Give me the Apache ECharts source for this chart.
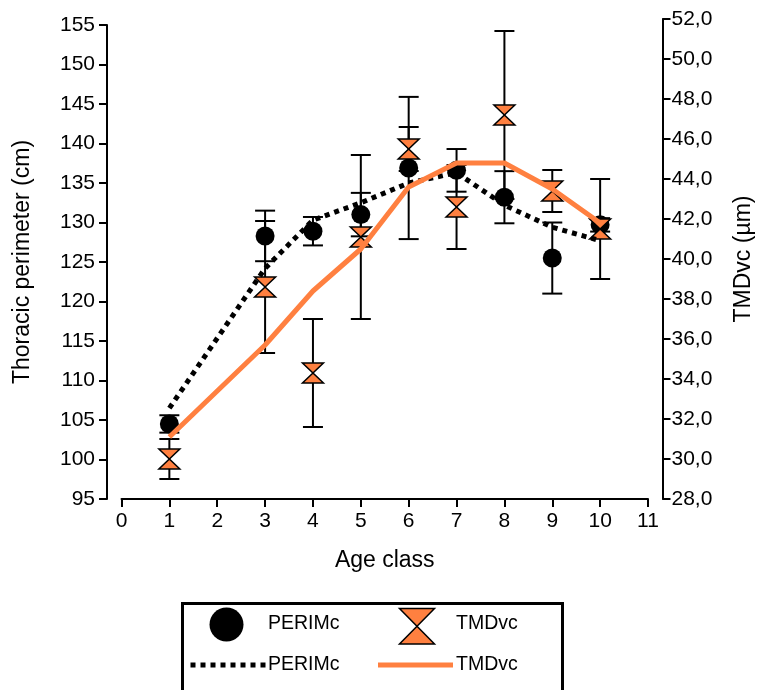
<!DOCTYPE html>
<html>
<head>
<meta charset="utf-8">
<script src="https://cdn.jsdelivr.net/npm/echarts@6/dist/echarts.min.js"></script>
<style>
html,body{margin:0;padding:0;background:#fff;}
#chart{width:757px;height:690px;}
</style>
</head>
<body>
<div id="chart"></div>
<script>
// ---- data ----
const ages = [1, 3, 4, 5, 6, 7, 8, 9, 10];
const perimMean = [104.5, 128.3, 128.9, 131.0, 136.9, 136.6, 133.2, 125.5, 129.7];
const perimErr  = [1.1, 3.2, 1.8, 2.75, 9.0, 2.7, 3.3, 4.5, 0.85];
const tmdMean   = [30.0, 38.6, 34.3, 41.1, 45.5, 42.6, 47.2, 43.4, 41.5];
const tmdErr    = [1.0, 3.3, 2.7, 4.1, 1.1, 2.1, 4.2, 1.05, 2.5];
const perimTrend = [106.5, 124.2, 130.3, 132.5, 135.0, 136.3, 132.2, 129.4, 127.7];
const tmdTrend   = [31.1, 35.7, 38.4, 40.5, 43.6, 44.8, 44.8, 43.5, 41.8];
const xTicks = [0, 11, 1];       // min, max, interval
const leftTicks = [95, 155, 5];
const rightTicks = [28, 52, 2];
const seriesNames = ['PERIMc', 'TMDvc'];
const axisTitles = ['Age class', 'Thoracic perimeter (cm)', 'TMDvc (µm)'];

const ORANGE = '#FF8040';
const FONT = 'Liberation Sans, Arial, sans-serif';

const pair = (xs, ys) => xs.map((x, i) => [x, ys[i]]);
const triple = (xs, ys, es) => xs.map((x, i) => [x, ys[i], es[i]]);

function errRender(params, api) {
  const x = api.value(0), y = api.value(1), e = api.value(2);
  const top = api.coord([x, y + e]);
  const bot = api.coord([x, y - e]);
  const hw = 10;
  const st = {stroke: '#000', lineWidth: 2, fill: null};
  return {
    type: 'group',
    children: [
      {type: 'line', shape: {x1: top[0], y1: top[1], x2: bot[0], y2: bot[1]}, style: st},
      {type: 'line', shape: {x1: top[0] - hw, y1: top[1], x2: top[0] + hw, y2: top[1]}, style: st},
      {type: 'line', shape: {x1: bot[0] - hw, y1: bot[1], x2: bot[0] + hw, y2: bot[1]}, style: st}
    ]
  };
}

const axisLine = {show: true, onZero: false, lineStyle: {color: '#000', width: 2}};
const axisTick = {show: true, length: 8, inside: false, lineStyle: {color: '#000', width: 2}};
const labelBase = {color: '#000', fontFamily: FONT, fontSize: 21};
const nameBase = {color: '#000', fontFamily: FONT, fontSize: 23};

const chart = echarts.init(document.getElementById('chart'), null, {renderer: 'canvas'});
chart.setOption({
  backgroundColor: '#fff',
  animation: false,
  grid: [
    {left: 121.5, right: 109, top: 25, bottom: 191, outerBoundsMode: 'none', containLabel: false},
    {left: 121.5, right: 109, top: 19, bottom: 191, outerBoundsMode: 'none', containLabel: false}
  ],
  xAxis: [
    {type: 'value', gridIndex: 0, min: xTicks[0], max: xTicks[1], interval: xTicks[2],
     axisLine: axisLine, axisTick: axisTick, splitLine: {show: false},
     axisLabel: Object.assign({margin: 12}, labelBase),
     name: axisTitles[0], nameLocation: 'middle', nameGap: 50, nameTextStyle: nameBase, nameMoveOverlap: false},
    {type: 'value', gridIndex: 1, min: xTicks[0], max: xTicks[1], interval: xTicks[2], show: false}
  ],
  yAxis: [
    {type: 'value', gridIndex: 0, position: 'left', offset: 14.5,
     min: leftTicks[0], max: leftTicks[1], interval: leftTicks[2],
     axisLine: axisLine, axisTick: axisTick, splitLine: {show: false},
     axisLabel: Object.assign({margin: 12}, labelBase),
     name: axisTitles[1], nameLocation: 'middle', nameRotate: 90, nameGap: 73,
     nameTextStyle: nameBase, nameMoveOverlap: false},
    {type: 'value', gridIndex: 1, position: 'right', offset: 14.5,
     min: rightTicks[0], max: rightTicks[1], interval: rightTicks[2],
     axisLine: axisLine, axisTick: axisTick, splitLine: {show: false},
     axisLabel: Object.assign({margin: 9, formatter: v => v.toFixed(1).replace('.', ',')}, labelBase),
     name: axisTitles[2], nameLocation: 'middle', nameRotate: 90, nameGap: 70,
     nameTextStyle: nameBase, nameMoveOverlap: false}
  ],
  series: [
    {type: 'custom', name: 'PERIMc err', xAxisIndex: 0, yAxisIndex: 0, z: 1,
     renderItem: errRender, data: triple(ages, perimMean, perimErr), encode: {x: 0, y: 1}, clip: false},
    {type: 'custom', name: 'TMDvc err', xAxisIndex: 1, yAxisIndex: 1, z: 1,
     renderItem: errRender, data: triple(ages, tmdMean, tmdErr), encode: {x: 0, y: 1}, clip: false},
    {type: 'scatter', name: seriesNames[0], xAxisIndex: 0, yAxisIndex: 0, z: 2,
     symbol: 'circle', symbolSize: 19, itemStyle: {color: '#000', opacity: 1},
     data: pair(ages, perimMean)},
    {type: 'scatter', name: seriesNames[1], xAxisIndex: 1, yAxisIndex: 1, z: 3,
     symbol: 'path://M0,0L20,0L0,20L20,20Z', symbolSize: [21, 20],
     itemStyle: {color: ORANGE, borderColor: '#000', borderWidth: 1.5, opacity: 1},
     data: pair(ages, tmdMean)},
    {type: 'line', name: seriesNames[0] + ' line', xAxisIndex: 0, yAxisIndex: 0, z: 4,
     symbol: 'none', lineStyle: {color: '#000', width: 5, type: [5, 5], cap: 'butt'},
     data: pair(ages, perimTrend)},
    {type: 'line', name: seriesNames[1] + ' line', xAxisIndex: 1, yAxisIndex: 1, z: 5,
     symbol: 'none', lineStyle: {color: ORANGE, width: 5},
     data: pair(ages, tmdTrend)}
  ],
  graphic: [
    {type: 'rect', left: 181, top: 602, shape: {width: 380, height: 110},
     style: {fill: '#fff', stroke: '#000', lineWidth: 3}, z: 10},
    {type: 'circle', shape: {cx: 226.5, cy: 624.5, r: 17}, style: {fill: '#000'}, z: 11},
    {type: 'text', x: 268, y: 624, style: {text: seriesNames[0], font: '19.5px ' + FONT, fill: '#000', verticalAlign: 'middle', align: 'left'}, z: 11},
    {type: 'polygon', shape: {points: [[399.5, 608.5], [434.5, 608.5], [399.5, 644], [434.5, 644]]},
     style: {fill: ORANGE, stroke: '#000', lineWidth: 1.5}, z: 11},
    {type: 'text', x: 456, y: 624, style: {text: seriesNames[1], font: '19.5px ' + FONT, fill: '#000', verticalAlign: 'middle', align: 'left'}, z: 11},
    {type: 'line', shape: {x1: 190.5, y1: 665, x2: 266, y2: 665},
     style: {stroke: '#000', lineWidth: 5, lineDash: [5, 5]}, z: 11},
    {type: 'text', x: 268, y: 665, style: {text: seriesNames[0], font: '19.5px ' + FONT, fill: '#000', verticalAlign: 'middle', align: 'left'}, z: 11},
    {type: 'line', shape: {x1: 378, y1: 665, x2: 453, y2: 665},
     style: {stroke: ORANGE, lineWidth: 5}, z: 11},
    {type: 'text', x: 456, y: 665, style: {text: seriesNames[1], font: '19.5px ' + FONT, fill: '#000', verticalAlign: 'middle', align: 'left'}, z: 11}
  ]
});
</script>
</body>
</html>
